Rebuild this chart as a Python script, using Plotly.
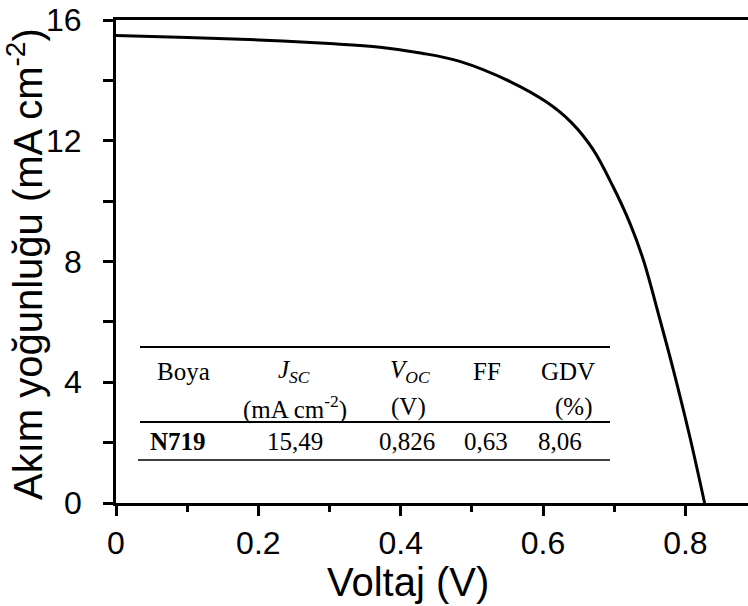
import plotly.graph_objects as go

# J-V curve data
voltage = [0.0, 0.1, 0.2, 0.3, 0.371, 0.43, 0.483, 0.553, 0.605, 0.64, 0.670,
           0.698, 0.722, 0.741, 0.764, 0.783, 0.806, 0.827]
current = [15.49, 15.42, 15.34, 15.22, 15.10, 14.90, 14.63, 13.97, 13.28, 12.60,
           11.72, 10.50, 9.27, 8.05, 6.10, 4.42, 2.22, 0.0]

# Inset table content
table_headers = ["Boya", "<i>J</i><sub><i>SC</i></sub>", "<i>V</i><sub><i>OC</i></sub>", "FF", "GDV"]
table_units = ["", "(mA cm<sup>-2</sup>)", "(V)", "", "(%)"]
table_row = ["<b>N719</b>", "15,49", "0,826", "0,63", "8,06"]

x_ticks = [0, 0.2, 0.4, 0.6, 0.8]
y_ticks = [0, 4, 8, 12, 16]

W, H = 748, 606
L, R, T, B = 116, 0, 20, 103
pw, ph = W - L - R, H - T - B
XMAX, YMAX = 0.888, 16

def px2x(px):
    return (px - L) / pw * XMAX

def py2y(py):
    return (T + ph - py) / ph * YMAX

fig = go.Figure()
fig.add_trace(go.Scatter(x=voltage, y=current, mode="lines",
                         line=dict(color="black", width=3, shape="spline", smoothing=1.0),
                         showlegend=False, hoverinfo="skip"))

sans = "Arial, Liberation Sans, sans-serif"
serif = "Times New Roman, Liberation Serif, serif"

fig.update_layout(
    width=W, height=H,
    margin=dict(l=L, r=R, t=T, b=B),
    plot_bgcolor="white", paper_bgcolor="white",
    font=dict(family=sans, color="black"),
    xaxis=dict(range=[0, XMAX], tickvals=x_ticks, ticktext=[str(v) for v in x_ticks],
               ticks="outside", ticklen=10, tickwidth=2.5, tickcolor="black",
               showline=True, linewidth=3, linecolor="black", mirror=True,
               showgrid=False, zeroline=False,
               tickfont=dict(size=32, family=sans),
               minor=dict(dtick=0.1, ticks="outside", ticklen=6, tickwidth=2.5, tickcolor="black", showgrid=False)),
    yaxis=dict(range=[0, YMAX], tickvals=y_ticks, showticklabels=False,
               ticks="outside", ticklen=10, tickwidth=2.5, tickcolor="black",
               showline=True, linewidth=3, linecolor="black", mirror=False,
               showgrid=False, zeroline=False,
               minor=dict(dtick=2, ticks="outside", ticklen=10, tickwidth=2.5, tickcolor="black", showgrid=False)),
)

annotations = []
# y tick labels (placed farther from the axis, as in the reference)
for v in y_ticks:
    annotations.append(dict(text=str(v), xref="paper", yref="y", x=(84 - L) / pw, y=v,
                            xanchor="right", yanchor="middle", showarrow=False,
                            font=dict(size=32, family=sans)))
# axis titles
annotations.append(dict(text="Voltaj (V)", xref="paper", yref="paper",
                        x=(408 - L) / pw, y=-(582 - T - ph) / ph, xanchor="center", yanchor="middle",
                        showarrow=False, font=dict(size=40, family=sans)))
annotations.append(dict(text="Akım yoğunluğu (mA cm<sup>-2</sup>)", xref="paper", yref="paper",
                        x=(25 - L) / pw, y=(T + ph - 264) / ph, xanchor="center", yanchor="middle",
                        textangle=-90, showarrow=False, font=dict(size=40, family=sans)))

# table text
col_x = [183, 294, 410, 487, 568]
unit_x = [183, 295, 408, 487, 573]
row_x = [178, 295, 407, 486, 560]
for cx, txt in zip(col_x, table_headers):
    annotations.append(dict(text=txt, x=px2x(cx), y=py2y(371), xref="x", yref="y",
                            showarrow=False, font=dict(size=25, family=serif)))
for cx, txt in zip(unit_x, table_units):
    if txt:
        annotations.append(dict(text=txt, x=px2x(cx), y=py2y(407), xref="x", yref="y",
                                showarrow=False, font=dict(size=25, family=serif)))
for cx, txt in zip(row_x, table_row):
    annotations.append(dict(text=txt, x=px2x(cx), y=py2y(441), xref="x", yref="y",
                            showarrow=False, font=dict(size=25, family=serif)))
fig.update_layout(annotations=annotations)

# table rules
shapes = [
    dict(type="line", xref="x", yref="y", x0=px2x(140), x1=px2x(610), y0=py2y(347), y1=py2y(347),
         line=dict(color="black", width=2)),
    dict(type="line", xref="x", yref="y", x0=px2x(140), x1=px2x(610), y0=py2y(422), y1=py2y(422),
         line=dict(color="black", width=2)),
    dict(type="line", xref="x", yref="y", x0=px2x(138), x1=px2x(610), y0=py2y(460), y1=py2y(460),
         line=dict(color="black", width=1.5)),
]
fig.update_layout(shapes=shapes)

fig.write_html("out.html")
